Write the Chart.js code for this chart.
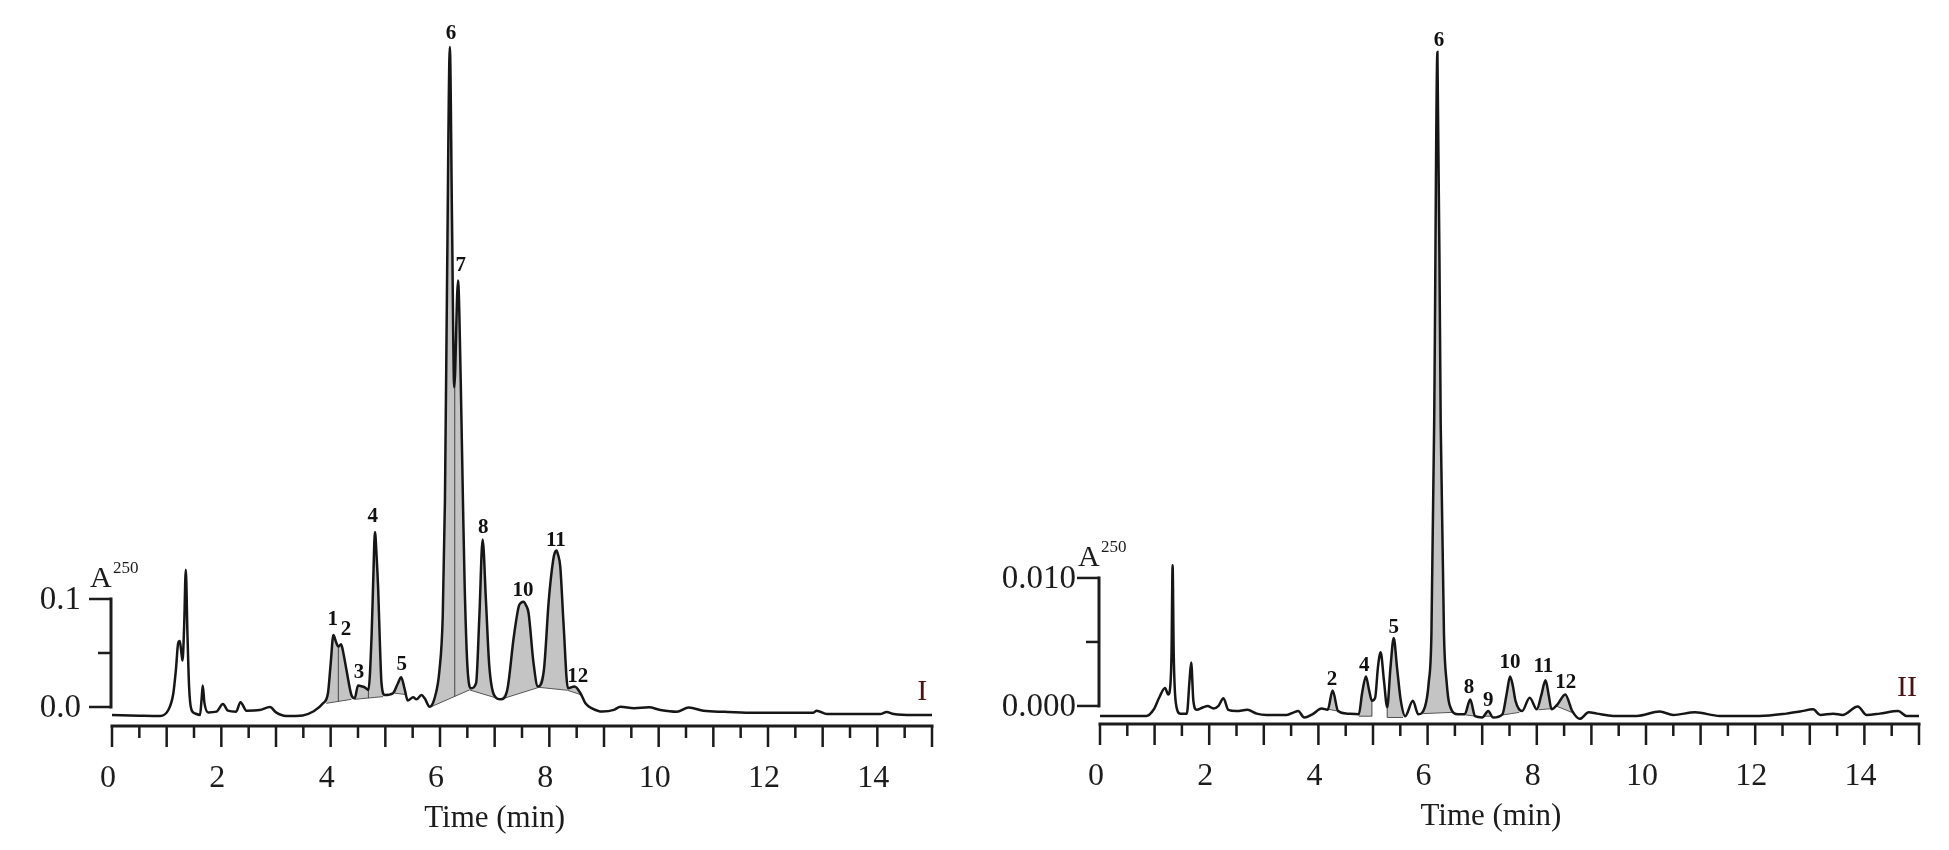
<!DOCTYPE html>
<html>
<head>
<meta charset="utf-8">
<script src="https://cdn.jsdelivr.net/npm/chart.js@4.4.1/dist/chart.umd.min.js"></script>
<style>
  html, body { margin: 0; padding: 0; background: #fff; }
  #wrap { position: relative; width: 1949px; height: 850px; }
  canvas { position: absolute; top: 0; }
</style>
</head>
<body>
<div id="wrap">
  <canvas id="chartI" width="980" height="850" style="left:0"></canvas>
  <canvas id="chartII" width="969" height="850" style="left:980px"></canvas>
</div>
<script>
// ---- Cromatograma I ----
const timeI = [0.00, 0.50, 0.88, 1.03, 1.12, 1.17, 1.21, 1.24, 1.27, 1.29, 1.32, 1.35, 1.38, 1.41, 1.45, 1.52,
  1.61, 1.64, 1.66, 1.69, 1.76, 1.91, 2.03, 2.12, 2.27, 2.35, 2.46, 2.70, 2.89, 3.00, 3.19, 3.49, 3.68, 3.86,
  3.95, 4.00, 4.05, 4.10, 4.14, 4.19, 4.24, 4.29, 4.38, 4.44, 4.50, 4.58, 4.63, 4.69, 4.75, 4.78, 4.81, 4.84,
  4.87, 4.90, 4.93, 4.99, 5.14, 5.23, 5.29, 5.35, 5.41, 5.51, 5.57, 5.66, 5.72, 5.81, 5.90, 5.99, 6.05, 6.09,
  6.13, 6.18, 6.22, 6.26, 6.33, 6.38, 6.42, 6.45, 6.50, 6.57, 6.66, 6.72, 6.78, 6.84, 6.90, 6.99, 7.11, 7.23,
  7.35, 7.44, 7.48, 7.53, 7.57, 7.62, 7.71, 7.79, 7.90, 7.99, 8.07, 8.10, 8.13, 8.16, 8.20, 8.26, 8.34, 8.46,
  8.57, 8.66, 8.78, 8.97, 9.18, 9.30, 9.55, 9.82, 10.03, 10.33, 10.55, 10.82, 11.20, 11.67, 12.30, 12.83, 12.89,
  13.08, 13.60, 14.05, 14.17, 14.30, 14.66, 15.00];
const absI = [-0.0074, -0.0080, -0.0083, -0.0028, 0.012, 0.035, 0.059, 0.061, 0.050, 0.043, 0.075, 0.127, 0.068, 0.019, -0.002, -0.006,
  -0.0074, 0.008, 0.020, 0.004, -0.005, -0.0043, 0.0028, -0.0034, -0.0043, 0.0045, -0.0034, -0.0028, 0.0, -0.005, -0.0083, -0.0078, -0.0042, 0.0034,
  0.0127, 0.040, 0.0666, 0.060, 0.056, 0.058, 0.048, 0.034, 0.011, 0.008, 0.020, 0.019, 0.018, 0.0158, 0.068, 0.120, 0.162, 0.140,
  0.108, 0.060, 0.022, 0.011, 0.0127, 0.022, 0.0275, 0.0173, 0.0059, 0.009, 0.0071, 0.011, 0.008, 0.0003, 0.008, 0.034, 0.084, 0.19,
  0.40, 0.611, 0.45, 0.296, 0.395, 0.30, 0.19, 0.115, 0.039, 0.0173, 0.022, 0.084, 0.155, 0.099, 0.039, 0.011, 0.0071, 0.0158,
  0.065, 0.093, 0.0965, 0.0975, 0.0945, 0.087, 0.041, 0.0189, 0.034, 0.099, 0.136, 0.143, 0.145, 0.141, 0.130, 0.077, 0.0173, 0.0189,
  0.0127, 0.0034, -0.0012, -0.0042, -0.0027, 0.0003, -0.0012, -0.0003, -0.0027, -0.0043, -0.0005, -0.0034, -0.0045, -0.0053, -0.0053, -0.0053, -0.0034,
  -0.0065, -0.0065, -0.0065, -0.0047, -0.0065, -0.0074, -0.0074];

// zonas integradas (gris) y su linea base
const fillStartI = [3.92, 4.44, 5.17, 5.84, 6.54, 7.11, 7.81, 8.33];
const fillEndI   = [4.38, 4.96, 5.38, 6.54, 7.11, 7.81, 8.33, 8.60];
const baseStartI = [0.0034, 0.0071, 0.0128, 0.0003, 0.0158, 0.0071, 0.0182, 0.0155];
const baseEndI   = [0.0071, 0.0096, 0.0115, 0.0158, 0.0071, 0.0182, 0.0155, 0.0110];
const dividersI  = [4.14, 4.69, 6.27];

const peakNumI   = ['1', '2', '3', '4', '5', '6', '7', '8', '10', '11', '12'];
const peakTimeI  = [4.04, 4.28, 4.52, 4.77, 5.30, 6.20, 6.38, 6.79, 7.52, 8.12, 8.52];
const peakLabelI = [0.0806, 0.0713, 0.0315, 0.176, 0.0389, 0.624, 0.409, 0.166, 0.108, 0.154, 0.0278];

// ---- Cromatograma II ----
const timeII = [0.00, 0.85, 0.98, 1.09, 1.19, 1.25, 1.29, 1.31, 1.33, 1.35, 1.39, 1.47, 1.59, 1.64, 1.67, 1.71,
  1.77, 1.89, 1.97, 2.08, 2.17, 2.26, 2.35, 2.50, 2.70, 2.87, 3.05, 3.42, 3.55, 3.63, 3.74, 3.89, 4.06, 4.17,
  4.26, 4.36, 4.53, 4.74, 4.80, 4.87, 4.93, 4.98, 5.04, 5.09, 5.14, 5.20, 5.26, 5.32, 5.38, 5.44, 5.51, 5.59,
  5.73, 5.83, 5.95, 6.02, 6.07, 6.12, 6.18, 6.24, 6.30, 6.35, 6.40, 6.56, 6.68, 6.78, 6.87, 7.00, 7.11, 7.20,
  7.37, 7.45, 7.51, 7.56, 7.61, 7.73, 7.87, 8.00, 8.08, 8.16, 8.22, 8.27, 8.38, 8.52, 8.65, 8.79, 8.95, 9.10,
  9.40, 9.83, 10.25, 10.50, 10.90, 11.35, 12.08, 12.57, 12.82, 13.06, 13.19, 13.43, 13.60, 13.88, 14.04, 14.28,
  14.62, 14.77, 15.00];
const absII = [-0.00078, -0.00078, -0.0003, 0.0007, 0.0014, 0.0009, 0.0017, 0.0041, 0.0110, 0.0041, 0.0002, -0.0006, -0.0006, 0.0020, 0.0034, 0.0004,
  -0.0003, -0.0001, 0.0, -0.0002, 0.0, 0.0006, -0.0003, -0.0004, -0.0003, -0.0006, -0.0007, -0.0007, -0.0005, -0.0004, -0.0009, -0.00065, -0.0002, -0.0003,
  0.0012, -0.0004, -0.0006, -0.00065, 0.0010, 0.0023, 0.0012, 0.0004, 0.00065, 0.0030, 0.0042, 0.0020, -0.0001, 0.0030, 0.0053, 0.0030, 0.0004, -0.0008,
  0.0004, -0.00065, -0.0001, 0.0018, 0.0056, 0.022, 0.0511, 0.022, 0.0056, 0.0018, 0.00013, -0.00065, -0.00065, 0.0005, -0.0008, -0.0009, -0.0004, -0.0009,
  -0.00065, 0.0010, 0.0023, 0.0016, 0.0004, -0.0004, 0.00065, -0.00026, 0.0008, 0.0020, 0.0008, -0.00026, 0.00013, 0.0009, -0.0004, -0.0010, -0.0005, -0.0006,
  -0.00078, -0.00078, -0.00044, -0.0007, -0.0005, -0.00078, -0.00078, -0.0006, -0.00044, -0.00026, -0.0007, -0.0006, -0.0007, -0.00005, -0.0007, -0.0006,
  -0.0004, -0.00078, -0.00078];

const fillStartII = [4.10, 4.74, 5.26, 5.92, 6.70, 7.04, 7.38, 8.03, 8.35];
const fillEndII   = [4.36, 4.98, 5.55, 6.45, 6.88, 7.18, 7.68, 8.30, 8.70];
const baseStartII = [-0.0002, -0.0008, -0.0009, -0.0006, -0.0007, -0.0008, -0.0007, -0.0003, 0.0000];
const baseEndII   = [-0.0004, -0.0008, -0.0009, -0.0005, -0.0008, -0.0008, -0.0005, -0.0002, -0.0006];
const dividersII  = [4.98, 5.26];

const peakNumII   = ['2', '4', '5', '6', '8', '9', '10', '11', '12'];
const peakTimeII  = [4.25, 4.84, 5.38, 6.21, 6.76, 7.11, 7.51, 8.12, 8.53];
const peakLabelII = [0.00209, 0.00313, 0.00614, 0.0520, 0.00144, 0.00044, 0.0034, 0.0031, 0.0018];

// ejes
const xTickLabels = ['0', '2', '4', '6', '8', '10', '12', '14'];
const yTickValuesI = [0, 0.05, 0.1];
const yTickLabelsI = ['0.0', '', '0.1'];
const yTickValuesII = [0, 0.005, 0.01];
const yTickLabelsII = ['0.000', '', '0.010'];

const SERIF = '"Liberation Serif", "DejaVu Serif", serif';

function interp(ts, vs, t) {
  for (let i = 1; i < ts.length; i++) {
    if (t <= ts[i]) {
      const f = (t - ts[i - 1]) / (ts[i] - ts[i - 1]);
      return vs[i - 1] + f * (vs[i] - vs[i - 1]);
    }
  }
  return vs[vs.length - 1];
}

function buildDatasets(times, abs, fStart, fEnd, bStart, bEnd, dividers) {
  const ds = [{
    data: times.map((t, i) => ({ x: t, y: abs[i] })),
    borderColor: '#161616', borderWidth: 2.5, pointRadius: 0, fill: false, order: 0,
    cubicInterpolationMode: 'monotone'
  }];
  fStart.forEach((t0, i) => {
    const t1 = fEnd[i];
    const pts = [{ x: t0, y: bStart[i] }, { x: t0, y: interp(times, abs, t0) }];
    times.forEach((t, j) => { if (t > t0 && t < t1) pts.push({ x: t, y: abs[j] }); });
    pts.push({ x: t1, y: interp(times, abs, t1) }, { x: t1, y: bEnd[i] });
    ds.push({ data: pts, borderWidth: 0, borderColor: 'rgba(0,0,0,0)', backgroundColor: '#c4c4c4',
      fill: 'shape', pointRadius: 0, order: 3 });
    // linea base
    ds.push({ data: [{ x: t0, y: bStart[i] }, { x: t1, y: bEnd[i] }], borderColor: '#555',
      borderWidth: 1, pointRadius: 0, fill: false, order: 2 });
  });
  dividers.forEach(td => {
    let b = abs[0];
    fStart.forEach((t0, i) => {
      if (td >= t0 && td <= fEnd[i]) b = bStart[i] + (td - t0) / (fEnd[i] - t0) * (bEnd[i] - bStart[i]);
    });
    ds.push({ data: [{ x: td, y: b }, { x: td, y: interp(times, abs, td) }], borderColor: '#444',
      borderWidth: 1, pointRadius: 0, fill: false, order: 1 });
  });
  return ds;
}

// ejes, escala y etiquetas dibujados con las escalas de Chart.js
const chromAxes = {
  id: 'chromAxes',
  afterDraw(chart) {
    const o = chart.options.plugins.chromAxes;
    const ctx = chart.ctx, xs = chart.scales.x, ys = chart.scales.y;
    const axisY = chart.chartArea.bottom;
    ctx.save();
    ctx.strokeStyle = '#1c1c1c';
    ctx.fillStyle = '#1c1c1c';
    // eje x
    ctx.lineWidth = 3;
    ctx.beginPath();
    ctx.moveTo(xs.getPixelForValue(0) - 1.5, axisY);
    ctx.lineTo(xs.getPixelForValue(15) + 1.5, axisY);
    ctx.stroke();
    ctx.lineWidth = 2.5;
    ctx.beginPath();
    for (let k = 0; k <= 30; k++) {
      const px = xs.getPixelForValue(k / 2);
      ctx.moveTo(px, axisY);
      ctx.lineTo(px, axisY + (k % 2 === 0 ? 21 : 12));
    }
    ctx.stroke();
    ctx.font = '32px ' + SERIF;
    ctx.textAlign = 'center';
    ctx.textBaseline = 'middle';
    xTickLabels.forEach(l => ctx.fillText(l, xs.getPixelForValue(Number(l)) - 4, axisY + 53));
    ctx.font = '31px ' + SERIF;
    ctx.fillText('Time (min)', xs.getPixelForValue(o.titleAt), axisY + 93);

    // barra de escala en y
    const barX = xs.getPixelForValue(0) - 1;
    const yTop = ys.getPixelForValue(o.yValues[o.yValues.length - 1]);
    ctx.lineWidth = 3;
    ctx.beginPath();
    ctx.moveTo(barX, ys.getPixelForValue(o.yValues[0]) + 1.5);
    ctx.lineTo(barX, yTop - 1.5);
    ctx.stroke();
    ctx.lineWidth = 2.5;
    ctx.font = '33px ' + SERIF;
    ctx.textAlign = 'right';
    o.yValues.forEach((v, i) => {
      const py = ys.getPixelForValue(v);
      ctx.beginPath();
      ctx.moveTo(barX - (o.yLabels[i] ? 22 : 13), py);
      ctx.lineTo(barX, py);
      ctx.stroke();
      if (o.yLabels[i]) ctx.fillText(o.yLabels[i], barX - 22 - o.labelGap, py + 1);
    });
    ctx.textAlign = 'left';
    ctx.textBaseline = 'alphabetic';
    ctx.font = '30px ' + SERIF;
    ctx.fillText('A', barX - 21, yTop - 12);
    ctx.font = '17px ' + SERIF;
    ctx.fillText('250', barX + 2, yTop - 26);

    // numero de panel
    ctx.fillStyle = '#4a1414';
    ctx.font = '30px ' + SERIF;
    ctx.textAlign = 'center';
    ctx.textBaseline = 'middle';
    ctx.fillText(o.panel, xs.getPixelForValue(o.panelAt), ys.getPixelForValue(0) - o.panelLift);

    // numeros de picos
    ctx.fillStyle = '#111';
    ctx.font = 'bold 21px ' + SERIF;
    o.nums.forEach((n, i) => {
      ctx.fillText(n, xs.getPixelForValue(o.times[i]), ys.getPixelForValue(o.levels[i]));
    });
    ctx.restore();
  }
};

function makeChart(id, datasets, yMin, yMax, pad, deco) {
  return new Chart(document.getElementById(id), {
    type: 'line',
    data: { datasets: datasets },
    options: {
      responsive: false,
      animation: false,
      layout: { padding: pad },
      scales: {
        x: { type: 'linear', min: 0, max: 15, display: false },
        y: { type: 'linear', min: yMin, max: yMax, display: false }
      },
      plugins: { legend: { display: false }, tooltip: { enabled: false }, chromAxes: deco }
    },
    plugins: [chromAxes]
  });
}

makeChart('chartI',
  buildDatasets(timeI, absI, fillStartI, fillEndI, baseStartI, baseEndI, dividersI),
  -0.0176, 0.63, { left: 112, right: 48, top: 26.6, bottom: 124 },
  { yValues: yTickValuesI, yLabels: yTickLabelsI, labelGap: 8, titleAt: 7.0, panel: 'I', panelAt: 14.82, panelLift: 15,
    nums: peakNumI, times: peakTimeI, levels: peakLabelI });

makeChart('chartII',
  buildDatasets(timeII, absII, fillStartII, fillEndII, baseStartII, baseEndII, dividersII),
  -0.00141, 0.053, { left: 120, right: 30, top: 27.6, bottom: 126 },
  { yValues: yTickValuesII, yLabels: yTickLabelsII, labelGap: 1, titleAt: 7.16, panel: 'II', panelAt: 14.78, panelLift: 18,
    nums: peakNumII, times: peakTimeII, levels: peakLabelII });
</script>
</body>
</html>
